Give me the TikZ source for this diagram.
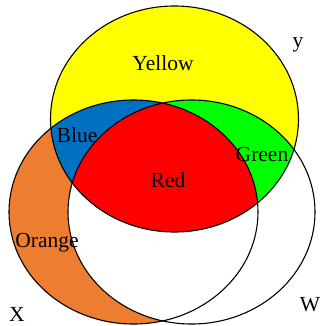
\documentclass[tikz,border=0pt]{standalone}
\usepackage{fontspec}
\setmainfont{Liberation Serif}
\definecolor{cyel}{HTML}{FFFF00}
\definecolor{cblue}{HTML}{0070C0}
\definecolor{cgreen}{HTML}{00FF00}
\definecolor{cred}{HTML}{FF0000}
\definecolor{corange}{HTML}{ED7D31}
\tikzset{
  lbl/.style={inner sep=0pt, font=\fontsize{21.5}{24}\selectfont},
  outline/.style={draw=black, line width=1.1pt},
}
\newcommand{\elY}{(174.5,119) ellipse [x radius=124pt, y radius=113pt]}
\newcommand{\elX}{(133.5,212) ellipse [x radius=124.5pt, y radius=112pt]}
\newcommand{\elW}{(191.5,212) ellipse [x radius=123.5pt, y radius=112pt]}
\begin{document}
\begin{tikzpicture}[x=1pt,y=-1pt]
\useasboundingbox (0,0) rectangle (321,326);
\fill[white] (0,0) rectangle (321,326);
% base fills
\fill[corange] \elX;
\fill[white] \elW;
\fill[cyel] \elY;
\begin{scope}
  \clip \elY;
  \fill[cblue] \elX;
  \fill[cgreen] \elW;
  \clip \elX;
  \fill[cred] \elW;
\end{scope}
% outlines
\draw[outline] \elY;
\draw[outline] \elX;
\draw[outline] \elW;
% labels
\node[lbl] (yellow) at (163,63) {Yellow};
\node[lbl] (blue) at (77,135) {Blue};
\node[lbl] (green) at (262,154) {Green};
\node[lbl] (red) at (168,180) {Red};
\node[lbl] (orange) at (47,243) {Orange};
\node[lbl] (ylab) at (298,45) {y};
\node[lbl] (xlab) at (17,314) {X};
\node[lbl] (wlab) at (310,305) {W};
\end{tikzpicture}
\end{document}
